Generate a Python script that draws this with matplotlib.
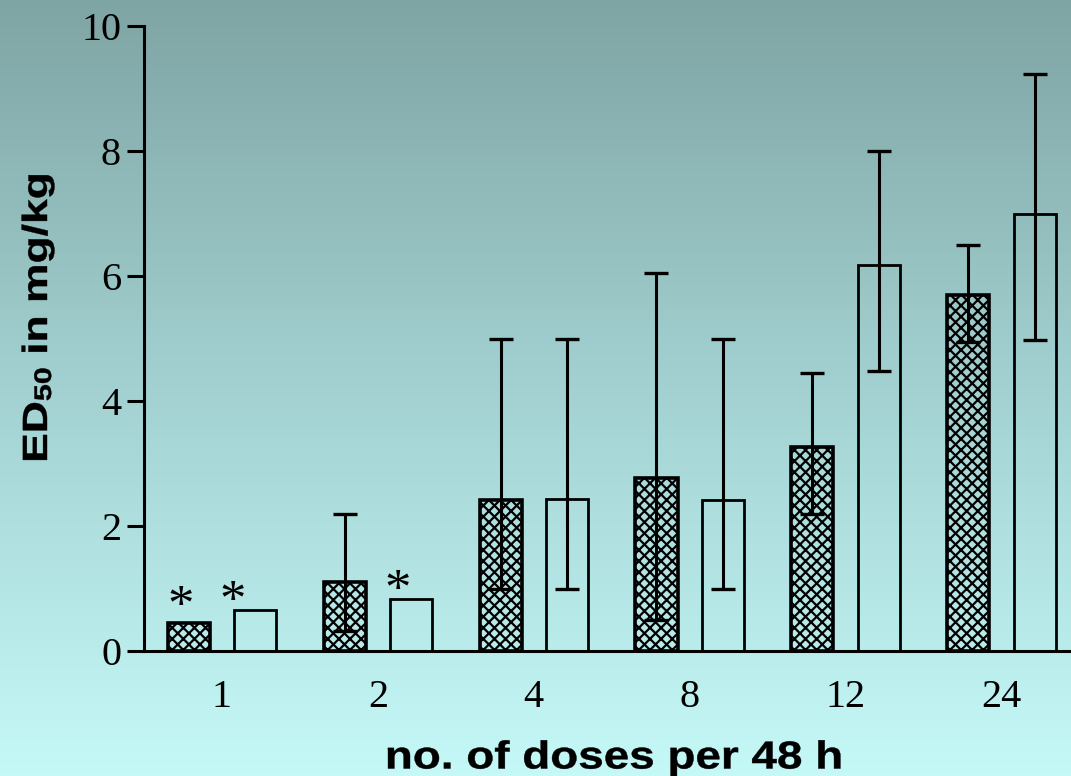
import numpy as np
import matplotlib
matplotlib.use("Agg")
import matplotlib.pyplot as plt
from matplotlib.colors import LinearSegmentedColormap
from matplotlib.font_manager import FontProperties, findfont, get_font
from matplotlib.textpath import TextPath
from matplotlib.patches import PathPatch
from matplotlib.transforms import Affine2D

# ED50 per dosing regimen (two treatment series)
groups = ["1", "2", "4", "8", "12", "24"]
hatched_vals = [0.45, 1.10, 2.42, 2.77, 3.26, 5.70]
hatched_low = [np.nan, 0.32, 1.00, 0.50, 2.20, 4.95]
hatched_high = [np.nan, 2.20, 5.00, 6.05, 4.45, 6.50]
open_vals = [0.65, 0.83, 2.43, 2.42, 6.17, 7.00]
open_low = [np.nan, np.nan, 1.00, 1.00, 4.48, 4.98]
open_high = [np.nan, np.nan, 5.00, 5.00, 8.00, 9.23]
hatched_star = [True, False, False, False, False, False]
open_star = [True, True, False, False, False, False]
yticks = [0, 2, 4, 6, 8, 10]

plt.rcParams["hatch.linewidth"] = 1.6

W, H = 1071, 776
DPI = 100
fig = plt.figure(figsize=(W / DPI, H / DPI), dpi=DPI)

# vertical background gradient
bg = fig.add_axes([0, 0, 1, 1], zorder=-10)
cmap = LinearSegmentedColormap.from_list("bg", ["#7fa4a4", "#a3d1d1", "#c5f9f8"])
bg.imshow(np.linspace(0, 1, 256).reshape(-1, 1), aspect="auto", cmap=cmap,
          extent=[0, 1, 0, 1], origin="upper")
bg.axis("off")

ax = fig.add_axes([144 / W, 1 - 651 / H, 1 - 144 / W, (651 - 26) / H])
ax.set_facecolor("none")

x = np.arange(len(groups))
off, width = 0.213, 0.27


def errs(vals, lo, hi):
    v = np.array(vals)
    return np.array([v - np.array(lo), np.array(hi) - v])


ax.bar(x - off, hatched_vals, width, facecolor="none", edgecolor="black",
       hatch="xxx", linewidth=2.6, zorder=2)
ax.bar(x + off, open_vals, width, facecolor="none", edgecolor="black",
       linewidth=2.0, zorder=2)

ekw = dict(fmt="none", ecolor="black", elinewidth=2.2, capsize=8.5,
           capthick=2.4, zorder=3)
ax.errorbar(x - off, hatched_vals, yerr=errs(hatched_vals, hatched_low, hatched_high), **ekw)
ax.errorbar(x + off, open_vals, yerr=errs(open_vals, open_low, open_high), **ekw)

# significance markers (offsets in points from the bar top centre)
star_kw = dict(ha="center", va="center", family="Liberation Serif", fontsize=38,
               textcoords="offset points", annotation_clip=False)
for xi, v, s in zip(x - off, hatched_vals, hatched_star):
    if s:
        ax.annotate("*", (xi, v), xytext=(-6, 11), **star_kw)
for i, (xi, v, s) in enumerate(zip(x + off, open_vals, open_star)):
    if s:
        ax.annotate("*", (xi, v), xytext=(-16 if i == 0 else -10, 5), **star_kw)

ax.set_xlim(-0.5, 5.446)
ax.set_ylim(0, 10)
ax.set_xticks(x)
ax.set_xticklabels(groups, family="Liberation Serif", fontsize=29)
ax.set_yticks(yticks)
ax.set_yticklabels([str(t) for t in yticks], family="Liberation Serif", fontsize=29)
ax.tick_params(axis="x", length=0, pad=20)
ax.tick_params(axis="y", length=12.5, width=2.2, pad=4, direction="out")

for side in ("top", "right"):
    ax.spines[side].set_visible(False)
for side in ("left", "bottom"):
    ax.spines[side].set_linewidth(2.2)


# axis titles drawn as glyph outlines with a wide horizontal set
label_prop = FontProperties(family="Liberation Sans", weight="bold")


def advance(text, size):
    font = get_font(findfont(label_prop))
    font.set_size(size, 72)
    return sum(font.load_char(ord(c)).linearHoriAdvance / 65536 for c in text)


def outline_text(parts, center, baseline, stretch, vertical=False):
    paths, pos = [], 0.0
    for text, size, shift in parts:
        paths.append(TextPath((pos, -shift), text, size=size, prop=label_prop))
        pos += advance(text, size)
    tr = Affine2D().translate(-pos / 2, 0).scale(stretch, 1)
    if vertical:
        tr = tr.rotate_deg(90).translate(baseline, H - center)
    else:
        tr = tr.translate(center, H - baseline)
    for p in paths:
        fig.add_artist(PathPatch(p, transform=tr, facecolor="black",
                                 edgecolor="black", linewidth=0.3))


outline_text([("no. of doses per 48 h", 39, 0)], center=614, baseline=768.5, stretch=1.175)
outline_text([("ED", 35, 0), ("50", 24, 4), (" in mg/kg", 35, 0)],
             center=317.5, baseline=47, stretch=1.27, vertical=True)

fig.savefig("out.png", dpi=DPI)
